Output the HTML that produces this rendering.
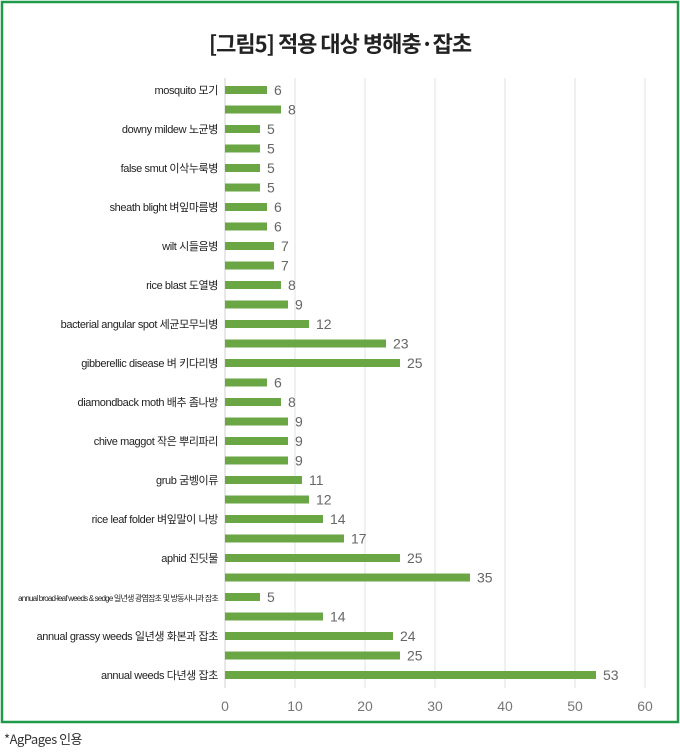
<!DOCTYPE html>
<html><head><meta charset="utf-8"><style>
body{margin:0;background:#fff;width:680px;height:751px;overflow:hidden;font-family:"Liberation Sans","Noto Sans CJK KR",sans-serif;}
</style></head><body>
<svg width="680" height="751" xmlns="http://www.w3.org/2000/svg" font-family="Liberation Sans, Noto Sans CJK KR, sans-serif">
<rect x="2" y="2" width="676" height="720" fill="#fff" stroke="#1f9a4a" stroke-width="2.5"/>
<text x="340" y="52" text-anchor="middle" font-size="22" font-weight="bold" fill="#222" font-family="Noto Sans CJK KR, sans-serif" letter-spacing="-1">[그림5] 적용 대상 병해충·잡초</text>
<g stroke="#e2e2e2" stroke-width="1">
<line x1="295" y1="78" x2="295" y2="688"/><line x1="365" y1="78" x2="365" y2="688"/><line x1="435" y1="78" x2="435" y2="688"/><line x1="505" y1="78" x2="505" y2="688"/><line x1="575" y1="78" x2="575" y2="688"/><line x1="645" y1="78" x2="645" y2="688"/>
</g>
<line x1="225" y1="78" x2="225" y2="688" stroke="#d0d0d0"/>
<g font-size="14" fill="#777" text-anchor="middle">
<text x="225" y="711">0</text><text x="295" y="711">10</text><text x="365" y="711">20</text><text x="435" y="711">30</text><text x="505" y="711">40</text><text x="575" y="711">50</text><text x="645" y="711">60</text>
</g>
<g id="bars"></g>
<text x="4" y="744" font-size="13" fill="#333" font-family="Noto Sans CJK KR, sans-serif" letter-spacing="-0.5">*AgPages 인용</text>
</svg>
<script>
var v=[6,8,5,5,5,5,6,6,7,7,8,9,12,23,25,6,8,9,9,9,11,12,14,17,25,35,5,14,24,25,53];
var L={0:"mosquito 모기",2:"downy mildew 노균병",4:"false smut 이삭누룩병",6:"sheath blight 벼잎마름병",8:"wilt 시들음병",10:"rice blast 도열병",12:"bacterial angular spot 세균모무늬병",14:"gibberellic disease 벼 키다리병",16:"diamondback moth 배추 좀나방",18:"chive maggot 작은 뿌리파리",20:"grub 굼벵이류",22:"rice leaf folder 벼잎말이 나방",24:"aphid 진딧물",26:"annual broad-leaf weeds & sedge 일년생 광엽잡초 및 방동사니과 잡초",28:"annual grassy weeds 일년생 화본과 잡초",30:"annual weeds 다년생 잡초"};
var g=document.getElementById('bars'),s="";
for(var i=0;i<v.length;i++){var y=90+i*19.5;var w=v[i]*7;
s+='<rect x="225" y="'+(y-4)+'" width="'+w+'" height="8" fill="#6aa644"/>';
s+='<text x="'+(225+w+7)+'" y="'+(y+5)+'" font-size="14" fill="#666">'+v[i]+'</text>';
if(L[i]){var fs=i==26?8:11;var ls=i==26?-0.8:-0.4;s+='<text x="218" y="'+(y+4)+'" text-anchor="end" font-size="'+fs+'" fill="#222" letter-spacing="'+ls+'">'+L[i]+'</text>';}}
g.innerHTML=s;
</script>
</body></html>
